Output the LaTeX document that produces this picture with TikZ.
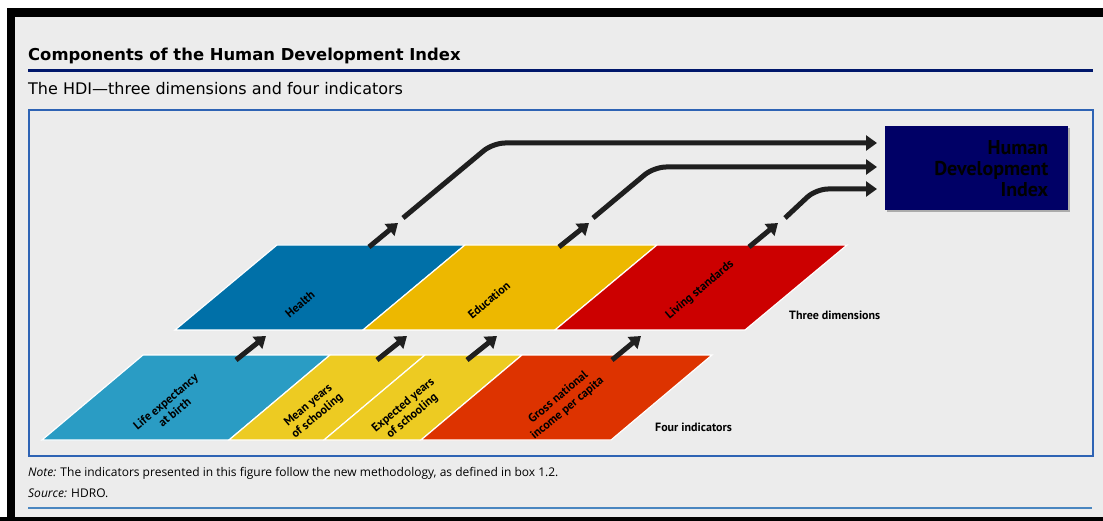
\documentclass[tikz,border=0pt]{standalone}
\usepackage{fontspec}
\setmainfont{Open Sans}
\newfontfamily\headfont{DejaVu Sans}
\newfontfamily\condfont{PT Sans}
\usetikzlibrary{arrows.meta,shadows}

\definecolor{panelgray}{HTML}{ECECEC}
\definecolor{hdinavy}{HTML}{000066}
\definecolor{rulenavy}{HTML}{00176B}
\definecolor{frameblue}{HTML}{2E63B4}
\definecolor{footblue}{HTML}{4A86C0}
\definecolor{healthblue}{HTML}{0070A8}
\definecolor{edugold}{HTML}{EDB800}
\definecolor{livingred}{HTML}{CC0000}
\definecolor{lifeblue}{HTML}{2A9CC4}
\definecolor{schoolyellow}{HTML}{EDCB22}
\definecolor{incomered}{HTML}{DD3300}

\tikzset{
  slab/.style={draw=white, line width=1.2pt},
  lbl/.style={font=\condfont\bfseries\fontsize{12}{14}\selectfont, rotate=40, align=center, inner sep=0pt},
  rowlbl/.style={font=\condfont\bfseries\fontsize{12}{13}\selectfont, anchor=west, inner sep=0pt},
  up/.style={line width=5pt, -{Triangle[width=15pt,length=11pt]}, color=black!88},
  feed/.style={up, rounded corners=12pt},
}

\begin{document}
\begin{tikzpicture}[x=1pt,y=-1pt]
	\useasboundingbox (0,0) rectangle (1103,521);
	\fill[white] (0,0) rectangle (1103,521);
	\fill[panelgray] (15,17) rectangle (1103,517);
	\fill[black] (7,8) rectangle (1103,17);
	\fill[black] (7,8) rectangle (15,521);
	\fill[black] (0,517) rectangle (1103,521);

	% heading
	\node[anchor=base west, inner sep=0pt, font=\headfont\bfseries\fontsize{16.4}{18}\selectfont] (title) at (28,61) {Components of the Human Development Index};
	\draw[rulenavy, line width=3.5pt] (28,70.5) -- (1093,70.5);
	\node[anchor=base west, inner sep=0pt, font=\headfont\fontsize{16}{18}\selectfont] (subtitle) at (28,95) {The HDI—three dimensions and four indicators};

	\draw[frameblue, line width=1.8pt] (29,110) rectangle (1093,456);

	% three dimensions
	\filldraw[slab, fill=healthblue] (175,330)--(277,245)--(465,245)--(363,330)--cycle;
	\filldraw[slab, fill=edugold] (363,330)--(465,245)--(657,245)--(555,330)--cycle;
	\filldraw[slab, fill=livingred] (555,330)--(657,245)--(847,245)--(745,330)--cycle;

	\node[lbl] (health) at (300,304) {Health};
	\node[lbl] (education) at (489,300) {Education};
	\node[lbl] (living) at (700,290) {Living standards};
	\node[rowlbl] (dims) at (789,315) {Three dimensions};

	% four indicators
	\filldraw[slab, fill=lifeblue] (42,440)--(143,355)--(330,355)--(229,440)--cycle;
	\filldraw[slab, fill=schoolyellow] (229,440)--(330,355)--(425,355)--(324,440)--cycle;
	\filldraw[slab, fill=schoolyellow] (324,440)--(425,355)--(522,355)--(421,440)--cycle;
	\filldraw[slab, fill=incomered] (421,440)--(522,355)--(712,355)--(611,440)--cycle;

	\node[lbl] (life) at (170,407) {Life expectancy\\at birth};
	\node[lbl] (mean) at (313,411) {Mean years\\of schooling};
	\node[lbl] (expected) at (408,411) {Expected years\\of schooling};
	\node[lbl] (income) at (563,403) {Gross national\\income per capita};
	\node[rowlbl] (inds) at (655,427) {Four indicators};

	% index box
	\node[anchor=north west, fill=hdinavy, minimum width=183pt, minimum height=84pt,
		inner xsep=20pt, text width=143pt, align=right,
		font=\condfont\bfseries\fontsize{20}{21}\selectfont,
		drop shadow={opacity=0.6, shadow xshift=2pt, shadow yshift=-2pt}] (hdi) at (885,126)
		{Human\\Development\\Index};

	% arrow ends
	\coordinate (life-out) at (236,360);
	\coordinate (health-in) at (266,336);
	\coordinate (mean-out) at (377,360);
	\coordinate (edu-in1) at (407,336);
	\coordinate (exp-out) at (467,360);
	\coordinate (edu-in2) at (497,336);
	\coordinate (inc-out) at (612,360);
	\coordinate (liv-in) at (641,336);

	\coordinate (health-out) at (369,247);
	\coordinate (health-up) at (398,223);
	\coordinate (edu-out) at (559,247);
	\coordinate (edu-up) at (589,223);
	\coordinate (liv-out) at (749,247);
	\coordinate (liv-up) at (778,223);

	\coordinate (h-start) at (403,218);
	\coordinate (h-bend) at (493,143);
	\coordinate (hdi-a) at (877,143);
	\coordinate (e-start) at (593,218);
	\coordinate (e-bend) at (654,167);
	\coordinate (hdi-b) at (877,167);
	\coordinate (l-start) at (785,218);
	\coordinate (l-bend) at (816,189);
	\coordinate (hdi-c) at (877,189);

	\draw[up] (life-out) -- (health-in);
	\draw[up] (mean-out) -- (edu-in1);
	\draw[up] (exp-out) -- (edu-in2);
	\draw[up] (inc-out) -- (liv-in);

	\draw[up] (health-out) -- (health-up);
	\draw[up] (edu-out) -- (edu-up);
	\draw[up] (liv-out) -- (liv-up);

	\draw[feed] (h-start) -- (h-bend) -- (hdi-a);
	\draw[feed] (e-start) -- (e-bend) -- (hdi-b);
	\draw[feed] (l-start) -- (l-bend) -- (hdi-c);

	% notes
	\node[anchor=base west, inner sep=0pt, font=\fontsize{12}{13}\selectfont] (note) at (28,476)
		{\textit{Note:} The indicators presented in this figure follow the new methodology, as defined in box 1.2.};
	\node[anchor=base west, inner sep=0pt, font=\fontsize{12}{13}\selectfont] (source) at (28,497)
		{\textit{Source:} HDRO.};
	\draw[footblue, line width=2pt] (28,507.5) -- (1092,507.5);
\end{tikzpicture}
\end{document}
